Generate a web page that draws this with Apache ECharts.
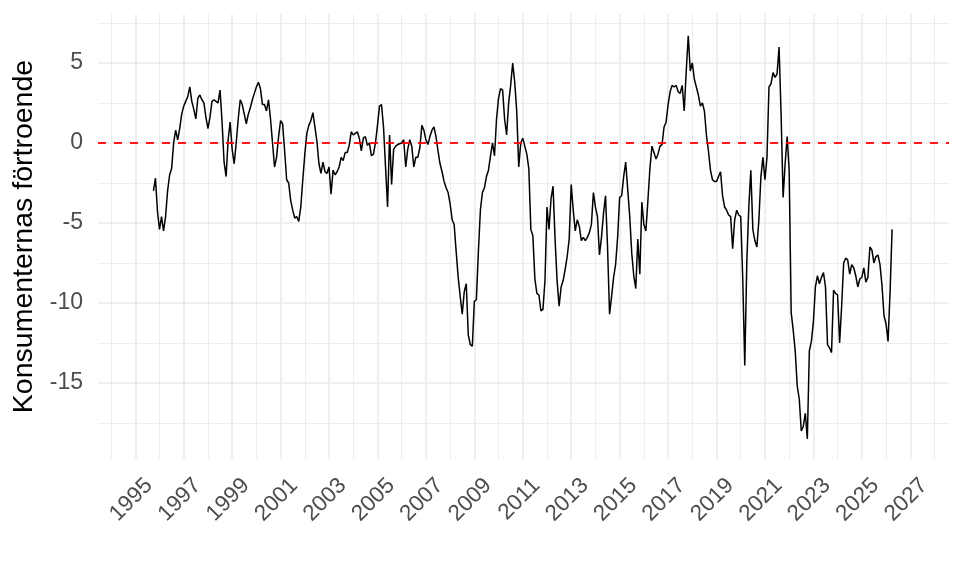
<!DOCTYPE html>
<html>
<head>
<meta charset="utf-8">
<title>Konsumenternas förtroende</title>
<script src="https://cdn.jsdelivr.net/npm/echarts@6/dist/echarts.min.js"></script>
<style>
	html, body { margin: 0; padding: 0; background: #fff; }
	#chart { width: 960px; height: 576px; }
</style>
</head>
<body>
<div id="chart"></div>
<script>
// monthly series, first value is October 1995
var startYear = 1995;
var startMonth = 10;

var confidence = [
	-3.0, -2.2, -4.3, -5.4, -4.6, -5.5, -4.6, -3.0, -2.0, -1.6, 0.0, 0.8,
	0.2, 0.9, 1.8, 2.3, 2.6, 2.9, 3.5, 2.6, 2.1, 1.5, 2.8, 3.0,
	2.7, 2.5, 1.6, 0.9, 1.6, 2.6, 2.7, 2.6, 2.5, 3.3, 1.3, -1.2,
	-2.1, 0.2, 1.3, -0.4, -1.3, 0.0, 1.5, 2.7, 2.4, 1.8, 1.2, 1.8,
	2.2, 2.7, 3.1, 3.5, 3.8, 3.4, 2.4, 2.4, 2.0, 2.7, 1.5, 0.0,
	-1.5, -0.9, 0.4, 1.4, 1.2, -0.5, -2.3, -2.5, -3.6, -4.2, -4.7, -4.6,
	-4.9, -4.0, -2.3, -0.7, 0.6, 1.1, 1.4, 1.9, 1.0, 0.1, -1.3, -1.9,
	-1.2, -1.8, -1.9, -1.5, -3.2, -1.7, -2.0, -1.8, -1.5, -0.9, -1.1, -0.6,
	-0.6, -0.15, 0.7, 0.5, 0.6, 0.7, 0.3, -0.5, 0.3, 0.4, -0.15, 0.0,
	-0.8, -0.7, 0.0, 1.1, 2.3, 2.4, 1.0, -1.5, -4.0, 0.5, -2.6, -0.4,
	-0.2, -0.1, -0.05, 0.0, 0.2, -1.5, -0.4, 0.2, -0.2, -1.5, -0.9, -0.9,
	-0.3, 1.1, 0.8, 0.2, -0.1, 0.4, 0.8, 1.0, 0.4, -0.5, -1.3, -1.8,
	-2.4, -2.8, -3.1, -3.8, -4.8, -5.1, -6.8, -8.4, -9.6, -10.7, -9.3, -8.8,
	-12.0, -12.6, -12.7, -9.9, -9.8, -6.8, -4.2, -3.1, -2.8, -2.1, -1.7, -0.8,
	0.0, -0.8, 1.5, 2.8, 3.4, 3.3, 1.5, 0.5, 2.5, 3.6, 5.0, 3.8,
	2.0, -1.5, 0.0, 0.3, -0.2, -0.7, -1.6, -5.4, -5.8, -8.5, -9.4, -9.5,
	-10.5, -10.4, -8.6, -4.0, -5.4, -3.5, -2.7, -6.0, -8.6, -10.2, -9.0, -8.6,
	-7.9, -7.1, -6.0, -2.6, -4.2, -5.5, -4.8, -5.2, -6.1, -5.9, -6.1, -5.9,
	-5.6, -5.1, -3.1, -4.0, -4.6, -7.0, -5.9, -4.4, -3.3, -6.5, -10.7, -9.6,
	-8.4, -7.6, -5.9, -3.4, -3.3, -2.1, -1.2, -2.9, -4.6, -6.9, -8.3, -9.1,
	-6.0, -8.2, -3.7, -5.1, -5.5, -3.6, -1.6, -0.2, -0.6, -1.0, -0.7, -0.2,
	-0.1, 1.0, 1.3, 2.4, 3.2, 3.6, 3.5, 3.6, 3.2, 3.1, 3.6, 2.0,
	4.5, 6.7, 4.5, 5.0, 4.0, 3.5, 3.0, 2.3, 2.5, 2.0, 0.5, -0.5,
	-1.7, -2.3, -2.4, -2.4, -2.1, -1.8, -3.3, -4.0, -4.2, -4.5, -4.6, -6.6,
	-4.8, -4.2, -4.5, -4.6, -8.5, -13.9, -7.5, -4.0, -1.7, -5.4, -6.1, -6.5,
	-4.8, -2.1, -0.9, -2.3, -0.9, 3.5, 3.7, 4.4, 4.1, 4.3, 6.0, 1.8,
	-3.4, -1.3, 0.4, -1.7, -10.6, -11.7, -13.0, -15.2, -16.0, -18.0, -17.7, -16.9,
	-18.5, -13.0, -12.4, -11.2, -9.0, -8.3, -8.8, -8.4, -8.1, -9.0, -12.6, -12.8,
	-13.1, -9.2, -9.4, -9.5, -12.5, -10.2, -7.5, -7.2, -7.3, -8.2, -7.6, -7.8,
	-8.3, -9.0, -8.5, -8.4, -7.8, -8.7, -8.4, -6.5, -6.7, -7.5, -7.1, -7.0,
	-7.6, -8.9, -10.8, -11.3, -12.4, -9.3, -5.4
];

var majorYears = [1995, 1997, 1999, 2001, 2003, 2005, 2007, 2009, 2011, 2013, 2015, 2017, 2019, 2021, 2023, 2025, 2027];
var minorYears = [1994, 1996, 1998, 2000, 2002, 2004, 2006, 2008, 2010, 2012, 2014, 2016, 2018, 2020, 2022, 2024, 2026, 2028];
var yMajor = [-15, -10, -5, 0, 5];
var yMinor = [-17.5, -12.5, -7.5, -2.5, 2.5, 7.5];
var refLevel = 0;

var font = '"Liberation Sans", Arial, sans-serif';
var gridColor = '#ebebeb';
// rotated year labels sit a little right of their grid line, like ggplot's hjust
var labelShift = 0.23;

// pair every value with its month as a decimal year
var points = confidence.map(function(v, i) {
	return [startYear + (startMonth - 1 + i) / 12, v];
});

var xRange = { min: 1993.46, max: 2028.6 };
var yRange = { min: -19.75, max: 8.06 };

var chart = echarts.init(document.getElementById('chart'), null, { renderer: 'canvas' });

var option = {
	animation: false,
	backgroundColor: '#ffffff',
	grid: { left: 98, right: 11, top: 14, bottom: 117 },
	xAxis: [{
		type: 'value',
		min: xRange.min,
		max: xRange.max,
		axisLine: { show: false },
		axisTick: { show: false, customValues: majorYears },
		axisLabel: {
			customValues: majorYears.map(function(y) { return y + labelShift; }),
			rotate: 45,
			align: 'right',
			verticalAlign: 'top',
			margin: 15,
			color: '#4d4d4d',
			fontSize: 22.5,
			fontFamily: font,
			formatter: function(v) { return String(Math.round(v - labelShift)); }
		},
		splitLine: { show: true, lineStyle: { color: gridColor, width: 1.6 } }
	}, {
		type: 'value',
		min: xRange.min,
		max: xRange.max,
		position: 'bottom',
		axisLine: { show: false },
		axisTick: { show: false, customValues: minorYears },
		axisLabel: { show: false },
		splitLine: { show: true, lineStyle: { color: gridColor, width: 0.9 } }
	}],
	yAxis: [{
		type: 'value',
		min: yRange.min,
		max: yRange.max,
		name: 'Konsumenternas förtroende',
		nameLocation: 'middle',
		nameGap: 55,
		nameTextStyle: { color: '#000', fontSize: 28.5, fontFamily: font },
		axisLine: { show: false },
		axisTick: { show: false, customValues: yMajor },
		axisLabel: {
			customValues: yMajor,
			margin: 15,
			color: '#4d4d4d',
			fontSize: 23,
			fontFamily: font
		},
		splitLine: { show: true, lineStyle: { color: gridColor, width: 1.6 } }
	}, {
		type: 'value',
		min: yRange.min,
		max: yRange.max,
		position: 'left',
		axisLine: { show: false },
		axisTick: { show: false, customValues: yMinor },
		axisLabel: { show: false },
		splitLine: { show: true, lineStyle: { color: gridColor, width: 0.9 } }
	}],
	series: [{
		type: 'line',
		xAxisIndex: 0,
		yAxisIndex: 0,
		data: points,
		showSymbol: false,
		symbol: 'none',
		lineStyle: { color: '#000000', width: 1.5 },
		markLine: {
			silent: true,
			symbol: 'none',
			label: { show: false },
			lineStyle: { color: '#ff0000', type: [8, 8], width: 1.8 },
			data: [{ yAxis: refLevel }]
		}
	}]
};

chart.setOption(option);
</script>
</body>
</html>
